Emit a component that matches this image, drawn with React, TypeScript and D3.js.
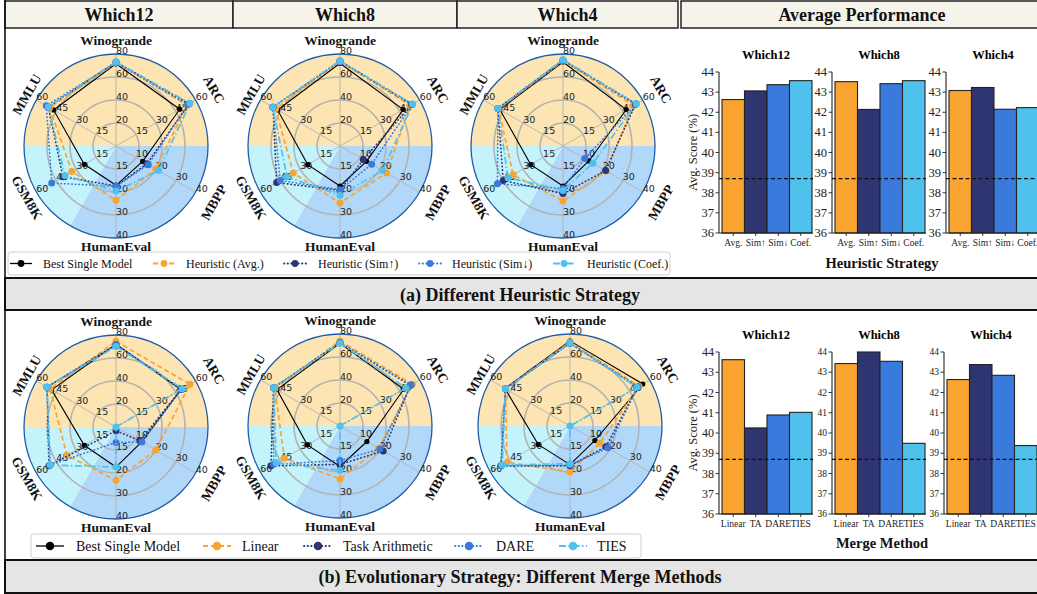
import React from 'react';
import * as d3 from 'd3';

// ---- data ----
const axesNames = ['Winogrande', 'ARC', 'MBPP', 'HumanEval', 'GSM8K', 'MMLU'];
const axisMax = [80, 60, 40, 40, 60, 60];
const axisTickLabels = [
  ['20', '40', '60', '80'],
  ['15', '30', '45', '60'],
  ['10', '20', '30', '40'],
  ['15', '20', '30', '40'],
  ['15', '30', '45', '60'],
  ['15', '30', '45', '60'],
];

const pools = ['Which12', 'Which8', 'Which4'];
const heuristicNames = ['Best Single Model', 'Heuristic (Avg.)', 'Heuristic (Sim↑)', 'Heuristic (Sim↓)', 'Heuristic (Coef.)'];
const mergeNames = ['Best Single Model', 'Linear', 'Task Arithmetic', 'DARE', 'TIES'];

// rows: best, avg, sim↑, sim↓, coef   cols: axesNames order
const heuristicWhich12 = [
  [71.5, 48, 13.4, 17.1, 23.9, 47],
  [72.5, 53.5, 20, 23.6, 33.3, 50],
  [73, 55, 15.5, 17.4, 40, 51],
  [72.5, 54, 16.2, 17.5, 48.4, 52.5],
  [73, 55.7, 21.4, 19.6, 38.4, 51],
];
const heuristicWhich8 = [
  [72, 47.6, 13.3, 17.4, 24.3, 47],
  [73.5, 53, 23.4, 24.8, 35.2, 48.5],
  [74, 54, 11.7, 19.3, 47.7, 50.5],
  [73.5, 54.5, 15.9, 19, 45, 50.7],
  [74, 54.7, 21.4, 21.4, 40, 50.5],
];
const heuristicWhich4 = [
  [73, 47.6, 13, 17.4, 24.3, 47.6],
  [74, 53, 21.7, 23.9, 37.6, 48.5],
  [74.5, 54.5, 21.4, 20.7, 45, 49],
  [74.5, 55, 10.9, 18.5, 49.4, 49],
  [75, 55.2, 15, 19.3, 41.4, 49],
];

// rows: best, linear, task arithmetic, dare, ties
const mergeWhich12 = [
  [72, 49, 12.9, 17.4, 23.9, 48.5],
  [74.5, 55.7, 20, 23.2, 37, 49.7],
  [71.5, 49, 12, 1.6, 50.5, 52],
  [71.5, 49.7, 13, 6.7, 49.5, 52],
  [70, 50, 0, 17.4, 49.7, 52],
];
const mergeWhich8 = [
  [72, 48, 13.5, 17.6, 24.6, 47.5],
  [74, 54.5, 19.5, 23, 42, 49],
  [72.5, 53, 21.7, 16.7, 52, 50],
  [72.5, 53.5, 20, 15, 50, 50],
  [72, 49.5, 0, 19.3, 48, 50],
];
const mergeWhich4 = [
  [74, 54.8, 12.5, 16.8, 24, 49],
  [73, 52, 15, 20, 47.5, 48.6],
  [72, 51, 18, 17.3, 52, 48.6],
  [72, 51, 19, 17, 52, 48.6],
  [72, 50.5, 0, 16.4, 51, 48.6],
];

const heuristicTicks = ['Avg.', 'Sim↑', 'Sim↓', 'Coef.'];
const mergeTicks = ['Linear', 'TA', 'DARE', 'TIES'];
const heuristicScores = [
  [42.63, 43.06, 43.37, 43.57],
  [43.52, 42.14, 43.42, 43.57],
  [43.08, 43.23, 42.15, 42.23],
];
const mergeScores = [
  [43.62, 40.25, 40.89, 41.02],
  [43.43, 44.0, 43.54, 39.49],
  [42.64, 43.38, 42.85, 39.38],
];
const scoreDomain = [36, 44];
const baselineScore = 38.7;

// ---- style ----
const colors = ['#000000', '#F9A431', '#2F3570', '#3A7ADD', '#4EC2EC'];
const dashes = ['', '5,3', '0.4,3.2', '0.4,3.2', '7,2.5,1.5,2.5'];
const serif = '"Liberation Serif", "Times New Roman", serif';
const sans = '"DejaVu Sans", sans-serif';
const R = 92;
const angleOf = (i: number) => (i * Math.PI) / 3;
const pt = (i: number, r: number) => [r * Math.sin(angleOf(i)), -r * Math.cos(angleOf(i))];

function Radar({ cx, cy, series }: { cx: number; cy: number; series: number[][] }) {
  const rScales = axisMax.map((m) => d3.scaleLinear().domain([0, m]).range([0, R]));
  const arc = d3.arc<any>();
  const sectors = [
    { s: -Math.PI / 2, e: Math.PI / 2, fill: '#FCE5B3' },
    { s: Math.PI / 2, e: (7 * Math.PI) / 6, fill: '#B2D8F9' },
    { s: (7 * Math.PI) / 6, e: (3 * Math.PI) / 2, fill: '#C4F3FC' },
  ];
  const line = d3
    .lineRadial<number>()
    .angle((_, i) => angleOf(i))
    .radius((d, i) => rScales[i](d))
    .curve(d3.curveLinearClosed);

  return (
    <g transform={`translate(${cx},${cy})`}>
      {sectors.map((s, k) => (
        <path key={k} d={arc({ innerRadius: 0, outerRadius: R, startAngle: s.s, endAngle: s.e }) as string} fill={s.fill} />
      ))}
      {[1, 2, 3].map((k) => (
        <circle key={k} r={(R * k) / 4} fill="none" stroke="#B2B2B2" strokeWidth={1.6} />
      ))}
      {axesNames.map((_, i) => {
        const [x, y] = pt(i, R);
        return <line key={i} x1={0} y1={0} x2={x} y2={y} stroke="#B2B2B2" strokeWidth={0.9} />;
      })}
      <circle r={R} fill="none" stroke="#1F5CA6" strokeWidth={1.3} />
      {axisTickLabels.map((labs, i) =>
        labs.map((lab, k) => {
          const [x, y] = pt(i, (R * (k + 1)) / 4);
          return (
            <text key={`${i}-${k}`} x={x} y={y - 0.5} fontSize={9.5} fontFamily={sans} fill="#222">
              {lab}
            </text>
          );
        })
      )}
      {axesNames.map((name, i) => {
        const lr = i === 0 ? R + 14 : i === 3 ? R + 8 : i < 3 ? R + 21 : R + 11;
        const [x, y] = pt(i, lr);
        let deg = i * 60;
        if (deg > 90 && deg < 270) deg -= 180;
        if (deg >= 270) deg -= 360;
        return (
          <text
            key={name}
            transform={`translate(${x},${y}) rotate(${deg})`}
            textAnchor="middle"
            dominantBaseline="central"
            fontFamily={serif}
            fontWeight="bold"
            fontSize={13.5}
            fill="#111"
          >
            {name}
          </text>
        );
      })}
      {series.map((vals, j) => (
        <g key={j}>
          <path
            d={line(vals) as string}
            fill="none"
            stroke={colors[j]}
            strokeWidth={j === 0 ? 1.1 : 1.7}
            strokeDasharray={dashes[j] || undefined}
            strokeLinecap={j === 2 || j === 3 ? 'round' : 'butt'}
          />
          {vals.map((v, i) => {
            const [x, y] = pt(i, rScales[i](v));
            return <circle key={i} cx={x} cy={y} r={j === 0 ? 2.6 : 3.5} fill={colors[j]} />;
          })}
        </g>
      ))}
    </g>
  );
}

function Legend({ x, y, w, h, names, markX, textX, half, fontSize, mr }: any) {
  const cy = y + h / 2;
  return (
    <g>
      <rect x={x} y={y} width={w} height={h} rx={3} fill="#fff" stroke="#D0D0D0" strokeWidth={1} />
      {names.map((n: string, j: number) => (
        <g key={n}>
          <line
            x1={markX[j] - half}
            x2={markX[j] + half}
            y1={cy}
            y2={cy}
            stroke={colors[j]}
            strokeWidth={j === 0 ? 1.3 : 1.8}
            strokeDasharray={dashes[j] || undefined}
            strokeLinecap={j === 2 || j === 3 ? 'round' : 'butt'}
          />
          <circle cx={markX[j]} cy={cy} r={mr} fill={colors[j]} />
          <text x={textX[j]} y={cy} dominantBaseline="central" fontFamily={serif} fontSize={fontSize} fill="#111">
            {n}
          </text>
        </g>
      ))}
    </g>
  );
}

function BarPanel({ x0, yTop, yBottom, values, ticks, title, tickSize, yLabel }: any) {
  const y = d3.scaleLinear().domain(scoreDomain).range([yBottom, yTop]);
  const x = d3.scaleBand<string>().domain(ticks).range([x0 + 3, x0 + 93]).padding(0);
  const right = x0 + 94;
  return (
    <g>
      <text x={x0 + 47} y={yTop - 17} textAnchor="middle" dominantBaseline="central" fontFamily={serif} fontWeight="bold" fontSize={12.5}>
        {title}
      </text>
      {values.map((v: number, i: number) => (
        <rect
          key={i}
          x={x(ticks[i])}
          y={y(v)}
          width={x.bandwidth()}
          height={yBottom - y(v)}
          fill={colors[i + 1]}
          stroke="#222"
          strokeWidth={1.1}
        />
      ))}
      <line x1={x0} x2={right} y1={y(baselineScore)} y2={y(baselineScore)} stroke="#111" strokeWidth={1.2} strokeDasharray="4,2.5" />
      <line x1={x0} x2={x0} y1={yTop} y2={yBottom} stroke="#222" strokeWidth={1.1} />
      <line x1={x0} x2={right} y1={yBottom} y2={yBottom} stroke="#222" strokeWidth={1.1} />
      {y.ticks(8).map((t) => (
        <g key={t}>
          <line x1={x0 - 3.5} x2={x0} y1={y(t)} y2={y(t)} stroke="#222" strokeWidth={0.9} />
          <text x={x0 - 5} y={y(t)} textAnchor="end" dominantBaseline="central" fontFamily={serif} fontSize={tickSize} fill="#222">
            {t}
          </text>
        </g>
      ))}
      {ticks.map((t: string) => {
        const cx = (x(t) as number) + x.bandwidth() / 2;
        return (
          <g key={t}>
            <line x1={cx} x2={cx} y1={yBottom} y2={yBottom + 3} stroke="#222" strokeWidth={0.9} />
            <text x={cx} y={yBottom + 10} textAnchor="middle" dominantBaseline="central" fontFamily={serif} fontSize={9.5} fill="#222">
              {t}
            </text>
          </g>
        );
      })}
      {yLabel && (
        <text
          transform={`translate(${x0 - 26},${(yTop + yBottom) / 2}) rotate(-90)`}
          textAnchor="middle"
          dominantBaseline="central"
          fontFamily={serif}
          fontSize={12.5}
          fill="#222"
        >
          Avg. Score (%)
        </text>
      )}
    </g>
  );
}

const headerCells = [
  { x: 5, w: 228, label: 'Which12' },
  { x: 233, w: 224, label: 'Which8' },
  { x: 457, w: 221, label: 'Which4' },
  { x: 681, w: 362, label: 'Average Performance' },
];

export default function App() {
  const topCenters = [[116, 146], [340, 146], [563, 146]];
  const bottomCenters = [[116, 427], [340, 426], [570, 426]];
  const heuristicSets = [heuristicWhich12, heuristicWhich8, heuristicWhich4];
  const mergeSets = [mergeWhich12, mergeWhich8, mergeWhich4];
  const barLeftsTop = [719, 832, 946];
  const barLeftsBottom = [719, 832, 944];

  return (
    <div style={{ position: 'absolute', left: 0, top: 0, background: '#fff' }}>
      <svg width={1037} height={594} style={{ display: 'block' }}>
        <rect width={1037} height={594} fill="#fff" />
        {headerCells.map((c) => (
          <g key={c.label}>
            <rect x={c.x} y={1} width={c.w} height={27} fill="#F6F3EB" stroke="#222" strokeWidth={1.5} />
            <text x={c.x + c.w / 2} y={15} textAnchor="middle" dominantBaseline="central" fontFamily={serif} fontWeight="bold" fontSize={18} fill="#111">
              {c.label}
            </text>
          </g>
        ))}
        <rect x={5} y={278} width={1040} height={32} fill="#E5E5E5" stroke="#111" strokeWidth={2} />
        <text x={520} y={295} textAnchor="middle" dominantBaseline="central" fontFamily={serif} fontWeight="bold" fontSize={18} fill="#111">
          (a) Different Heuristic Strategy
        </text>
        <rect x={5} y={560} width={1040} height={33} fill="#E5E5E5" stroke="#111" strokeWidth={2} />
        <text x={520} y={577} textAnchor="middle" dominantBaseline="central" fontFamily={serif} fontWeight="bold" fontSize={18} fill="#111">
          (b) Evolutionary Strategy: Different Merge Methods
        </text>
        <line x1={5} x2={5} y1={0} y2={594} stroke="#111" strokeWidth={1.6} />

        {topCenters.map(([cx, cy], k) => (
          <Radar key={`t${k}`} cx={cx} cy={cy} series={heuristicSets[k]} />
        ))}
        {bottomCenters.map(([cx, cy], k) => (
          <Radar key={`b${k}`} cx={cx} cy={cy} series={mergeSets[k]} />
        ))}

        <Legend x={8} y={252} w={662} h={23} names={heuristicNames} markX={[21, 164, 295, 430, 564]} textX={[43, 186, 318, 452, 587]} half={11} fontSize={12} mr={3.4} />
        <Legend x={31} y={534} w={610} h={24} names={mergeNames} markX={[50, 217, 318, 469, 573]} textX={[76, 242, 343, 496, 597]} half={14} fontSize={14} mr={4.3} />

        {pools.map((p, k) => (
          <BarPanel key={`ht${k}`} x0={barLeftsTop[k]} yTop={72} yBottom={233} values={heuristicScores[k]} ticks={heuristicTicks} title={p} tickSize={12.5} yLabel={k === 0} />
        ))}
        <text x={882} y={263} textAnchor="middle" dominantBaseline="central" fontFamily={serif} fontWeight="bold" fontSize={14.5} fill="#111">
          Heuristic Strategy
        </text>
        {pools.map((p, k) => (
          <BarPanel key={`mb${k}`} x0={barLeftsBottom[k]} yTop={352} yBottom={514} values={mergeScores[k]} ticks={mergeTicks} title={p} tickSize={k === 0 ? 12 : 9.5} yLabel={k === 0} />
        ))}
        <text x={882} y={543} textAnchor="middle" dominantBaseline="central" fontFamily={serif} fontWeight="bold" fontSize={14.5} fill="#111">
          Merge Method
        </text>
      </svg>
    </div>
  );
}
